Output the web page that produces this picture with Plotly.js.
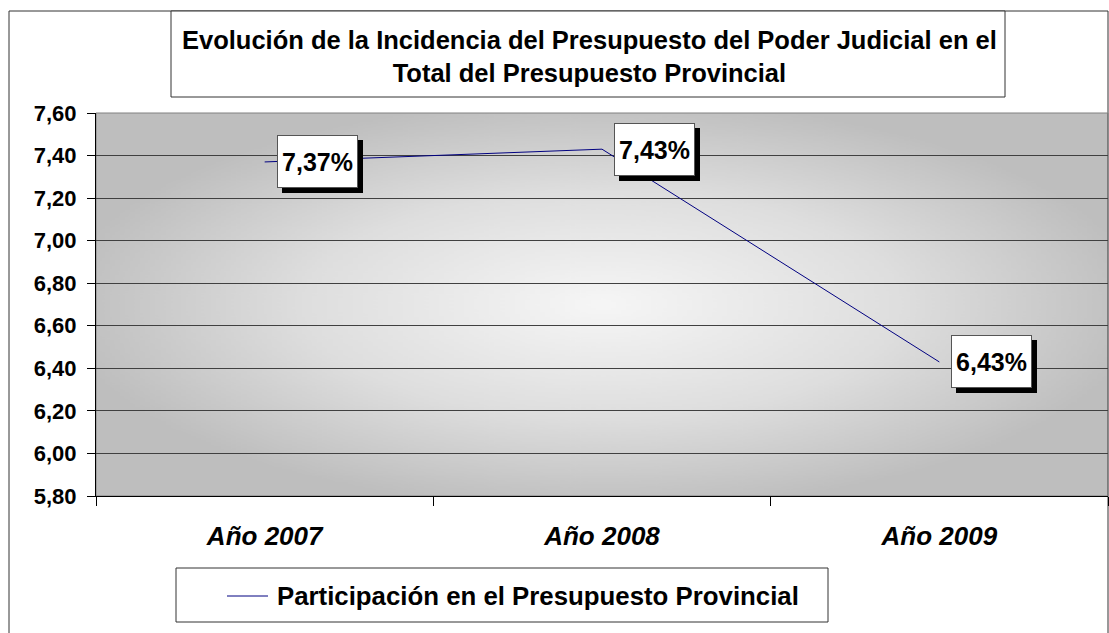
<!DOCTYPE html>
<html>
<head>
<meta charset="utf-8">
<script src="https://cdn.plot.ly/plotly-3.0.1.min.js"></script>
<style>html,body{margin:0;padding:0;background:#fff;}#chart{width:1109px;height:633px;}</style>
</head>
<body>
<div id="chart"></div>
<script>
const categories = ["Año 2007", "Año 2008", "Año 2009"];
const values = [7.37, 7.43, 6.43];
const labels = ["7,37%", "7,43%", "6,43%"];
const seriesName = "Participación en el Presupuesto Provincial";
const titleLines = ["Evolución de la Incidencia del Presupuesto del Poder Judicial en el", "Total del Presupuesto Provincial"];

// plot-area background gradient
const cv = document.createElement('canvas');
cv.width = 400; cv.height = 400;
const ctx = cv.getContext('2d');
const g = ctx.createRadialGradient(200, 200, 0, 200, 200, 215);
g.addColorStop(0, '#f6f6f6');
g.addColorStop(0.55, '#dedede');
g.addColorStop(1, '#bebebe');
ctx.fillStyle = g;
ctx.fillRect(0, 0, 400, 400);
const bg = cv.toDataURL('image/png');

const W = 1109, H = 633, L = 96, R = 1108, T = 113, B = 496;
const px = v => (v - L) / (R - L);
const py = v => (B - v) / (B - T);
const FONT = 'Arial, "Liberation Sans", sans-serif';

const trace = {
  x: categories, y: values, type: 'scatter', mode: 'lines',
  name: seriesName,
  line: {color: '#000080', width: 1},
  showlegend: false, hoverinfo: 'skip'
};

const annotations = [];
categories.forEach((c, i) => {
  annotations.push({
    x: c, y: values[i], xref: 'x', yref: 'y', text: '&nbsp;', showarrow: false,
    xanchor: 'left', yanchor: 'middle', xshift: 17, yshift: -5,
    width: 77, height: 49, borderpad: 1,
    bgcolor: '#000', bordercolor: '#000', borderwidth: 1,
    font: {family: FONT, size: 25, color: '#000', weight: 'bold'}
  });
  annotations.push({
    x: c, y: values[i], xref: 'x', yref: 'y', text: labels[i], showarrow: false,
    xanchor: 'left', yanchor: 'middle', xshift: 12,
    width: 77, height: 49, borderpad: 1,
    bgcolor: '#fff', bordercolor: '#555', borderwidth: 1,
    font: {family: FONT, size: 25, color: '#000', weight: 'bold'}
  });
});
annotations.push({
  xref: 'paper', yref: 'paper', x: px(589), y: py(56), showarrow: false,
  text: titleLines.join('<br>'), xanchor: 'center', yanchor: 'middle',
  font: {family: FONT, size: 25.5, color: '#000', weight: 'bold'}
});
annotations.push({
  xref: 'paper', yref: 'paper', x: px(275), y: py(596), showarrow: false,
  text: seriesName, xanchor: 'left', yanchor: 'middle',
  font: {family: FONT, size: 25.8, color: '#000', weight: 'bold'}
});

const shapes = [
  {type: 'rect', xref: 'paper', yref: 'paper', x0: px(9), x1: px(1108), y0: py(645), y1: py(11), line: {color: '#333', width: 1}, fillcolor: 'rgba(0,0,0,0)', layer: 'below'},
  {type: 'rect', xref: 'paper', yref: 'paper', x0: px(171), x1: px(1005), y0: py(97), y1: py(11), line: {color: '#333', width: 1}, fillcolor: '#fff'},
  {type: 'rect', xref: 'paper', yref: 'paper', x0: 0, x1: 1, y0: 0, y1: 1, line: {color: '#808080', width: 1}, fillcolor: 'rgba(0,0,0,0)', layer: 'below'},
  {type: 'rect', xref: 'paper', yref: 'paper', x0: px(176), x1: px(828), y0: py(622), y1: py(568), line: {color: '#333', width: 1}, fillcolor: '#fff'},
  {type: 'line', xref: 'paper', yref: 'paper', x0: px(227), x1: px(268), y0: py(596), y1: py(596), line: {color: '#000080', width: 1}}
];

const layout = {
  width: W, height: H,
  margin: {l: L, r: W - R, t: T, b: H - B, pad: 0},
  paper_bgcolor: '#fff', plot_bgcolor: 'rgba(0,0,0,0)',
  separators: ',.',
  showlegend: false,
  images: [{source: bg, xref: 'paper', yref: 'paper', x: 0, y: 1, sizex: 1, sizey: 1, sizing: 'stretch', xanchor: 'left', yanchor: 'top', layer: 'below'}],
  xaxis: {
    type: 'category', range: [-0.5, 2.5], tickson: 'boundaries',
    ticks: 'outside', ticklen: 9, tickcolor: '#000', tickwidth: 1,
    showline: true, linecolor: '#000', linewidth: 1, showgrid: false,
    ticklabelstandoff: 17,
    tickfont: {family: FONT, size: 26, color: '#000', weight: 'bold', style: 'italic'},
    fixedrange: true
  },
  yaxis: {
    range: [5.8, 7.6], tick0: 5.8, dtick: 0.2, tickformat: '.2f',
    ticks: 'outside', ticklen: 8, tickcolor: '#000', tickwidth: 1,
    showline: true, linecolor: '#000', linewidth: 1,
    showgrid: true, gridcolor: '#404040', gridwidth: 1, zeroline: false,
    ticklabelstandoff: 6,
    tickfont: {family: FONT, size: 22, color: '#000', weight: 'bold'},
    fixedrange: true
  },
  annotations: annotations,
  shapes: shapes
};

Plotly.newPlot('chart', [trace], layout, {displayModeBar: false, staticPlot: true});
</script>
</body>
</html>
